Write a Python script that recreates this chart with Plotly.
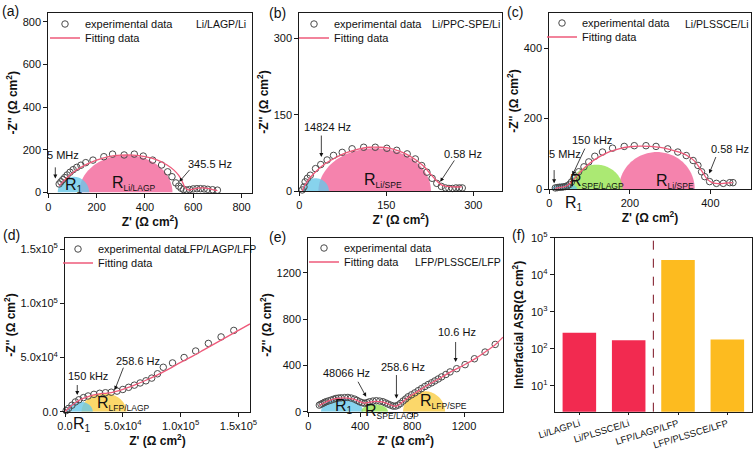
import numpy as np
import plotly.graph_objects as go

FONT = "Liberation Sans, Arial, sans-serif"
W, H = 753, 450

# ---------------- data ----------------
# (a) Li/LAGP/Li
a_exp_x = [45, 52, 60, 68, 78, 90, 103, 118, 135, 155, 185, 230, 266, 314, 356, 393, 432, 469, 494, 512, 528, 540, 550, 560, 572, 585, 600, 615, 630, 645, 660, 680, 700]
a_exp_y = [40, 50, 60, 70, 82, 95, 107, 118, 128, 140, 152, 168, 180, 176, 180, 171, 152, 129, 97, 74, 45, 30, 20, 14, 12, 14, 17, 18, 18, 17, 15, 13, 11]
a_fit_x = [45, 60, 80, 100, 130, 160, 200, 250, 300, 350, 400, 450, 490, 520, 540, 555, 565, 580, 600, 620, 640, 660, 680, 700]
a_fit_y = [30, 50, 72, 92, 115, 133, 152, 168, 175, 175, 168, 153, 130, 105, 80, 50, 25, 12, 16, 21, 22, 19, 14, 9]
a_arc_cx = [321, 104]
a_arc_rx = [193, 65]
a_arc_ry = [175, 74]

# (b) Li/PPC-SPE/Li
b_exp_x = [5, 8, 10, 14, 19, 28, 37, 48, 59, 74, 91, 111, 131, 151, 168, 186, 200, 211, 220, 229, 237, 245, 252, 258, 264, 270, 276, 281]
b_exp_y = [2, 8, 18, 25, 31, 44, 52, 61, 70, 76, 83, 86, 86, 84, 80, 73, 63, 50, 37, 25, 15, 9, 6, 5, 5, 6, 6, 6]
b_fit_x = [5, 10, 20, 30, 45, 60, 80, 100, 120, 140, 160, 180, 200, 215, 225, 235, 245, 255, 265, 280]
b_fit_y = [0, 12, 28, 40, 54, 64, 75, 82, 86, 86, 83, 75, 62, 48, 35, 22, 12, 9, 8, 8]
b_arc_cx = [130, 28]
b_arc_rx = [97, 23]
b_arc_ry = [84, 25]

# (c) Li/PLSSCE/Li
c_exp_x = [15, 20, 25, 30, 35, 40, 45, 50, 55, 61, 73, 86, 98, 113, 132, 157, 186, 211, 240, 265, 294, 319, 340, 357, 369, 378, 386, 398, 415, 432, 448, 456]
c_exp_y = [3, 4, 5, 5, 6, 7, 9, 13, 20, 30, 49, 63, 77, 93, 105, 116, 121, 123, 123, 121, 114, 105, 95, 81, 67, 49, 35, 21, 16, 16, 18, 18]
c_fit_x = [15, 25, 35, 45, 55, 65, 80, 100, 125, 150, 175, 200, 225, 250, 275, 300, 325, 345, 360, 372, 382, 392, 405, 420, 440, 455]
c_fit_y = [2, 4, 6, 10, 20, 33, 52, 73, 92, 106, 115, 120, 122, 121, 118, 112, 104, 93, 80, 62, 45, 28, 18, 15, 17, 18]
c_arc_cx = [267, 117, 38]
c_arc_rx = [94, 65, 31]
c_arc_ry = [105, 69, 16]

# (d) LFP/LAGP/LFP
d_exp_x = [1e3, 3e3, 6e3, 9e3, 1.2e4, 1.6e4, 2.0e4, 2.5e4, 3.0e4, 3.5e4, 4.0e4, 4.5e4, 5.0e4, 5.5e4, 6.0e4, 6.5e4, 7.0e4, 7.5e4, 8.0e4, 8.5e4, 9.3e4, 1.03e5, 1.13e5, 1.24e5, 1.35e5, 1.46e5]
d_exp_y = [1e3, 3e3, 6e3, 9e3, 1.1e4, 1.3e4, 1.45e4, 1.6e4, 1.7e4, 1.75e4, 1.8e4, 1.9e4, 2.05e4, 2.25e4, 2.45e4, 2.65e4, 2.85e4, 3.1e4, 3.5e4, 4.1e4, 4.5e4, 5.0e4, 5.6e4, 6.3e4, 6.9e4, 7.5e4]
d_fit_x = [0, 5e3, 1e4, 1.5e4, 2e4, 2.5e4, 3e4, 3.5e4, 4e4, 5e4, 6e4, 7e4, 8e4, 9e4, 1e5, 1.1e5, 1.2e5, 1.3e5, 1.4e5, 1.5e5, 1.6e5]
d_fit_y = [0, 5e3, 9e3, 1.2e4, 1.4e4, 1.55e4, 1.65e4, 1.7e4, 1.75e4, 2.05e4, 2.45e4, 2.9e4, 3.4e4, 3.95e4, 4.55e4, 5.1e4, 5.7e4, 6.3e4, 6.9e4, 7.5e4, 8.1e4]
d_arc_cx = [3.37e4, 1.27e4]
d_arc_rx = [1.94e4, 1.13e4]
d_arc_ry = [1.7e4, 9.3e3]

# (e) LFP/PLSSCE/LFP
e_exp_x = [85, 98, 111, 124, 137, 155, 175, 195, 214, 233, 253, 280, 305, 330, 356, 375, 395, 415, 434, 452, 472, 498, 524, 550, 575, 595, 614, 634, 653, 672, 692, 711, 730, 750, 769, 795, 821, 847, 872, 898, 924, 950, 975, 1001, 1027, 1060, 1092, 1143, 1208, 1280, 1362, 1440]
e_exp_y = [57, 65, 72, 80, 86, 93, 100, 108, 115, 118, 120, 122, 123, 118, 109, 98, 86, 78, 72, 78, 86, 92, 95, 92, 86, 76, 66, 57, 49, 48, 57, 72, 92, 110, 129, 146, 163, 182, 200, 218, 235, 250, 266, 283, 301, 322, 344, 372, 407, 458, 516, 582]
e_fit_x = [85, 120, 160, 200, 250, 300, 350, 390, 430, 470, 520, 570, 610, 650, 680, 720, 770, 820, 870, 920, 970, 1030, 1090, 1150, 1210, 1280, 1360, 1440, 1500]
e_fit_y = [55, 75, 95, 110, 118, 118, 108, 90, 75, 82, 90, 85, 70, 52, 48, 80, 125, 160, 195, 230, 262, 300, 340, 375, 410, 455, 515, 580, 645]
e_arc_cx = [260, 511, 892]
e_arc_rx = [162, 103, 162]
e_arc_ry = [115, 63, 178]

# (f) interfacial ASR
f_categories = ["Li/LAGPLi", "Li/PLSSCE/Li", "LFP/LAGP/LFP", "LFP/PLSSCE/LFP"]
f_values = [270, 170, 25000, 178]

# tick labels
d_tickvals = [0, 5e4, 1e5, 1.5e5]
d_ticktext = ["0.0", "5.0x10<sup>4</sup>", "1.0x10<sup>5</sup>", "1.5x10<sup>5</sup>"]
f_tickvals = [10, 100, 1000, 10000, 100000]
f_ticktext = ["10<sup>1</sup>", "10<sup>2</sup>", "10<sup>3</sup>", "10<sup>4</sup>", "10<sup>5</sup>"]

# ---------------- styles ----------------
BLUE = "rgba(105,200,232,0.80)"
PINK = "rgba(243,100,152,0.80)"
GREEN = "rgba(150,228,80,0.80)"
YELLOW = "rgba(250,208,80,0.85)"
FITC = "#EE5A7A"
MARKC = "#4a4a4a"
RED_BAR = "#F22A50"
AMBER_BAR = "#FDBB1F"


def px_x(p):
    return p / W


def px_y(p):
    return 1 - p / H


def ax(n):
    return "x" if n == 1 else f"x{n}"


def ay(n):
    return "y" if n == 1 else f"y{n}"


def legname(k):
    return "legend" if k == 1 else f"legend{k}"


def rlab(sub, subsize=8.5):
    return f"R<sub><span style='font-size:{subsize}px'>{sub}</span></sub>"


fig = go.Figure()


def add_arcs(n, cxs, rxs, rys, colors):
    t = np.linspace(0, np.pi, 80)
    for cx, rx, ry, col in zip(cxs, rxs, rys, colors):
        fig.add_trace(go.Scatter(
            x=cx + rx * np.cos(t), y=ry * np.sin(t), mode="none", fill="toself",
            fillcolor=col, showlegend=False, hoverinfo="skip",
            xaxis=ax(n), yaxis=ay(n)))


def add_nyquist(n, ex, ey, fx, fy):
    fig.add_trace(go.Scatter(
        x=ex, y=ey, mode="markers", name="experimental data",
        marker=dict(symbol="circle-open", size=6.5, color=MARKC, line=dict(width=1, color=MARKC)),
        xaxis=ax(n), yaxis=ay(n), legend=legname(2 * n - 1), cliponaxis=False))
    fig.add_trace(go.Scatter(
        x=fx, y=fy, mode="lines", name="Fitting data", line=dict(color=FITC, width=1.3, shape="spline"),
        xaxis=ax(n), yaxis=ay(n), legend=legname(2 * n)))


add_arcs(1, a_arc_cx, a_arc_rx, a_arc_ry, [PINK, BLUE])
add_nyquist(1, a_exp_x, a_exp_y, a_fit_x, a_fit_y)
add_arcs(2, b_arc_cx, b_arc_rx, b_arc_ry, [PINK, BLUE])
add_nyquist(2, b_exp_x, b_exp_y, b_fit_x, b_fit_y)
add_arcs(3, c_arc_cx, c_arc_rx, c_arc_ry, [PINK, GREEN, BLUE])
add_nyquist(3, c_exp_x, c_exp_y, c_fit_x, c_fit_y)
add_arcs(4, d_arc_cx, d_arc_rx, d_arc_ry, [YELLOW, BLUE])
add_nyquist(4, d_exp_x, d_exp_y, d_fit_x, d_fit_y)
add_arcs(5, e_arc_cx, e_arc_rx, e_arc_ry, [BLUE, GREEN, YELLOW])
add_nyquist(5, e_exp_x, e_exp_y, e_fit_x, e_fit_y)

fig.add_trace(go.Bar(
    x=f_categories, y=f_values, marker=dict(color=[RED_BAR, RED_BAR, AMBER_BAR, AMBER_BAR], line=dict(width=0)),
    width=0.68, showlegend=False, xaxis="x6", yaxis="y6"))

# ---------------- axes ----------------
base_axis = dict(showline=True, linecolor="#1a1a1a", linewidth=1, mirror=True, ticks="outside",
                 ticklen=4, tickwidth=1, tickcolor="#1a1a1a", showgrid=False, zeroline=False,
                 automargin=False, tickfont=dict(family=FONT, size=11, color="#111"))

XT = "<b>Z' (Ω cm<sup>2</sup>)</b>"
YT = "<b>-Z'' (Ω cm<sup>2</sup>)</b>"
TF = dict(family=FONT, size=12, color="#111")

panels = {
    1: dict(xd=(48.3, 251.7), yd=(13, 192.5), xr=[0, 842], yr=[0, 842], xdt=200, ydt=200),
    2: dict(xd=(299.3, 502.3), yd=(13, 191), xr=[0, 350], yr=[0, 350], xdt=150, ydt=150),
    3: dict(xd=(549.3, 750.7), yd=(13, 189), xr=[0, 500], yr=[0, 500], xdt=200, ydt=200),
    4: dict(xd=(65, 250), yd=(238.3, 411.7), xr=[0, 1.6e5], yr=[0, 1.6e5], xdt=None, ydt=None),
    5: dict(xd=(308.3, 503), yd=(238.3, 411.7), xr=[0, 1500], yr=[0, 1500], xdt=400, ydt=400),
}

layout_axes = {}
for n, p in panels.items():
    xa = dict(base_axis, domain=[px_x(p["xd"][0]), px_x(p["xd"][1])], range=p["xr"], anchor=ay(n),
              title=dict(text=XT, font=TF, standoff=4))
    ya = dict(base_axis, domain=[px_y(p["yd"][1]), px_y(p["yd"][0])], range=p["yr"], anchor=ax(n),
              title=dict(text=YT, font=TF, standoff=2))
    if p["xdt"] is None:
        xa.update(tickmode="array", tickvals=d_tickvals, ticktext=d_ticktext)
        ya.update(tickmode="array", tickvals=d_tickvals, ticktext=d_ticktext)
    else:
        xa.update(dtick=p["xdt"], tick0=0)
        ya.update(dtick=p["ydt"], tick0=0)
    key = "" if n == 1 else str(n)
    layout_axes["xaxis" + key] = xa
    layout_axes["yaxis" + key] = ya

layout_axes["xaxis6"] = dict(base_axis, domain=[px_x(554.7), px_x(752)], range=[-0.5, 3.5], anchor="y6",
                             tickangle=-17, ticklen=2, tickfont=dict(family=FONT, size=9.5, color="#111"))
layout_axes["yaxis6"] = dict(base_axis, domain=[px_y(411.7), px_y(237.7)], type="log", range=[0.3, 5],
                             anchor="x6", tickmode="array", tickvals=f_tickvals, ticktext=f_ticktext,
                             title=dict(text="<b>Interfacial ASR(Ω cm<sup>2</sup>)</b>", font=TF, standoff=4))

# ---------------- legends (one entry each so the row spacing matches) ----------------
def leg(xp, yp):
    return dict(x=px_x(xp), y=px_y(yp), xanchor="left", yanchor="middle", bgcolor="rgba(0,0,0,0)",
                borderwidth=0, font=dict(family=FONT, size=11, color="#111"), itemwidth=30,
                tracegroupgap=0)

legend_pos = {1: (45, 24), 2: (294, 24), 3: (542, 23), 4: (58, 249), 5: (304, 248)}
legends = {}
for n, (xp, yp) in legend_pos.items():
    legends[legname(2 * n - 1)] = leg(xp, yp)
    legends[legname(2 * n)] = leg(xp, yp + 14)

# ---------------- annotations ----------------
ann = []


def text(n, x, y, s, size=11, xanchor="center", yref=None):
    ann.append(dict(xref=ax(n), yref=yref or ay(n), x=x, y=y, text=s, showarrow=False, xanchor=xanchor,
                    yanchor="middle", font=dict(family=FONT, size=size, color="#111")))


def arrow(n, x, y, tx, ty):
    ann.append(dict(xref=ax(n), yref=ay(n), axref=ax(n), ayref=ay(n), x=x, y=y, ax=tx, ay=ty, text="",
                    showarrow=True, arrowhead=2, arrowsize=1, arrowwidth=0.8, arrowcolor="#111"))


def ptext(xp, yp, s, size=11, xanchor="center"):
    ann.append(dict(xref="paper", yref="paper", x=px_x(xp), y=px_y(yp), text=s, showarrow=False,
                    xanchor=xanchor, yanchor="middle", font=dict(family=FONT, size=size, color="#111")))


# panel letters
for xp, yp, s in [(0, 11, "(a)"), (267, 13, "(b)"), (505, 12, "(c)"), (1, 235, "(d)"), (267, 237, "(e)"), (510, 235, "(f)")]:
    ptext(xp, yp, s, size=14, xanchor="left")

# sample names
ptext(221, 24, "Li/LAGP/Li", size=10.5)
ptext(466, 24, "Li/PPC-SPE/Li", size=10.5)
ptext(717, 24, "Li/PLSSCE/Li", size=10.5)
ptext(182, 249, "LFP/LAGP/LFP", size=10.5, xanchor="left")
ptext(458, 262, "LFP/PLSSCE/LFP", size=10.5)

RS = 16
# (a)
text(1, 59, 175, "5 MHz")
arrow(1, 29, 66, 29, 125)
text(1, 669, 136, "345.5 Hz")
arrow(1, 542, 50, 590, 113)
text(1, 108, 35, rlab("1", 10), size=RS)
text(1, 356, 40, rlab("Li/LAGP"), size=RS)
# (b)
text(2, 49, 125, "14824 Hz")
arrow(2, 38, 67, 38, 112)
text(2, 283, 73, "0.58 Hz")
arrow(2, 243, 18, 269, 63)
text(2, 145, 20, rlab("Li/SPE"), size=RS)
# (c)
text(3, 40, 100, "5 MHz")
arrow(3, 12, 16, 12, 58)
text(3, 107, 139, "150 kHz")
arrow(3, 57, 39, 90, 119)
text(3, 448, 114, "0.58 Hz")
arrow(3, 397, 44, 415, 95)
text(3, 118, 22, rlab("SPE/LAGP"), size=RS)
text(3, 312, 22, rlab("Li/SPE"), size=RS)
text(3, 62, -0.08, rlab("1", 10), size=RS, yref="y3 domain")
# (d)
text(4, 2.0e4, 3.3e4, "150 kHz")
arrow(4, 1.06e4, 1.54e4, 1.06e4, 2.6e4)
text(4, 6.3e4, 4.7e4, "258.6 Hz")
arrow(4, 4.3e4, 2.0e4, 5.1e4, 4.2e4)
text(4, 5.06e4, 8e3, rlab("LFP/LAGP"), size=RS)
text(4, 1.5e4, -0.072, rlab("1", 10), size=RS, yref="y4 domain")
# (e)
text(5, 292, 335, "48066 Hz")
arrow(5, 446, 129, 377, 272)
text(5, 730, 383, "258.6 Hz")
arrow(5, 679, 115, 679, 330)
text(5, 1143, 687, "10.6 Hz")
arrow(5, 1135, 430, 1135, 616)
text(5, 276, 43, rlab("1", 10), size=RS)
text(5, 648, 5, rlab("SPE/LAGP"), size=RS)
text(5, 1040, 86, rlab("LFP/SPE"), size=RS)
# (f)
text(6, 0, 10 ** 4.76, "Li/Li")
text(6, 2.55, 10 ** 4.76, "Cathode/Cathode")

shapes = [dict(type="line", xref="x6", yref="y6 domain", x0=1.5, x1=1.5, y0=0, y1=1,
               line=dict(color="#7a1020", width=1, dash="dash"))]

fig.update_layout(
    width=W, height=H, margin=dict(l=0, r=0, t=0, b=0, autoexpand=False), paper_bgcolor="white",
    plot_bgcolor="white", font=dict(family=FONT, size=11, color="#111"), annotations=ann, shapes=shapes,
    bargap=0.3, **layout_axes, **legends)

fig.write_html("out.html", config={"displayModeBar": False},
               post_script="document.body.style.margin='0';document.body.style.padding='0';")
